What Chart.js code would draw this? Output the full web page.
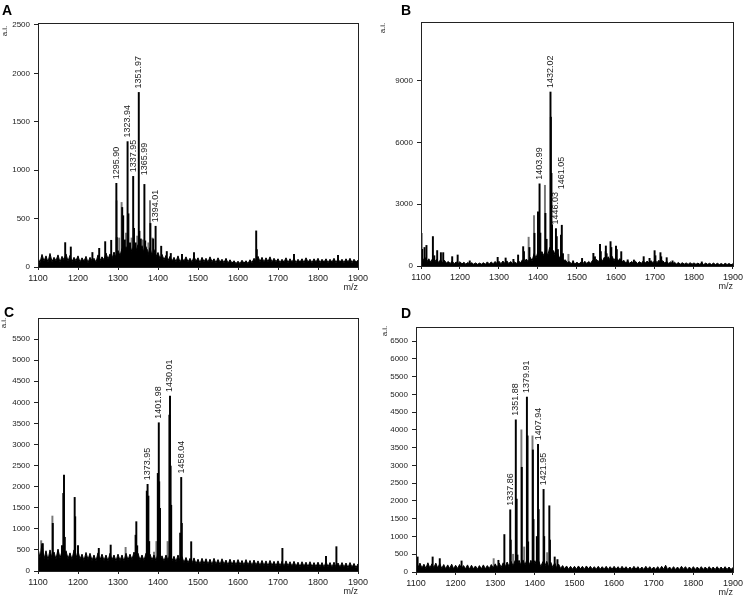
<!DOCTYPE html>
<html><head><meta charset="utf-8">
<script src="https://cdn.jsdelivr.net/npm/chart.js@4/dist/chart.umd.min.js"></script>
<style>
html,body{margin:0;padding:0;background:#fff;width:746px;height:596px;overflow:hidden}
canvas{position:absolute}
</style></head><body>
<canvas id="cA" width="373" height="298" style="left:0;top:0"></canvas>
<canvas id="cB" width="373" height="298" style="left:373px;top:0"></canvas>
<canvas id="cC" width="373" height="298" style="left:0;top:298px"></canvas>
<canvas id="cD" width="373" height="298" style="left:373px;top:298px"></canvas>
<script>
// ---------- shared axis values ----------
const xTicks = [1100,1200,1300,1400,1500,1600,1700,1800,1900];
const noiseStart = 1100, noiseStep = 5;

// ---------- Panel A ----------
const yTicksA = [0,500,1000,1500,2000,2500];
const yMaxA = 2520;
const noiseA = [
 95,45,130,60,115,50,140,55,100,65,125,50,110,75,135,60,120,55,100,65,
 115,50,95,60,110,45,100,65,90,50,125,65,105,75,145,80,135,85,155,95,
 170,115,190,135,210,145,220,155,240,165,230,155,220,145,210,125,200,115,180,105,
 150,85,130,75,120,65,110,60,100,55,115,50,95,60,105,55,90,50,110,60,
 95,45,100,55,90,50,105,55,85,45,95,50,80,45,90,40,75,40,65,35,
 60,35,70,40,65,35,75,45,90,65,110,55,100,50,95,55,105,50,90,55,
 85,45,80,50,95,45,85,50,90,45,80,50,85,45,95,50,80,45,85,50,
 90,45,80,50,85,45,80,50,90,45,85,50,80,45,85,50,90,45,80,50,
 70];
const peakMzA  = [1168,1182,1236,1253,1268,1283,1295.90,1297,1310.5,1313,1317,1323.94,1326,1330,1337.95,1340,1344,1351.97,1353.5,1357,1365.99,1368,1372,1381,1388,1394.01,1408,1422,1432,1460,1490,1645.5,1647,1740,1850];
const peakIntA = [252,207,150,193,262,276,864,304,615,530,280,1295,550,250,936,400,250,1803,370,290,853,270,180,450,290,421,215,160,140,130,150,373,180,130,120];
const grayMzA  = [1296.5,1303,1309,1320,1334,1348,1362,1376,1380,1386];
const grayIntA = [684,300,667,350,300,320,280,250,687,300];
const labelMzA   = [1295.90,1323.94,1337.95,1351.97,1365.99,1394.01];
const labelBaseA = [864,1295,936,1803,905,421];

// ---------- Panel B ----------
const yTicksB = [0,3000,6000,9000];
const yMaxB = 11850;
const noiseB = [
 500,250,420,200,350,180,380,200,330,170,300,160,280,140,220,120,240,110,200,120,
 210,100,180,90,170,100,160,90,150,80,140,90,160,80,200,100,190,110,220,120,
 230,110,240,130,250,120,220,110,200,120,260,140,300,160,340,200,420,260,600,380,
 700,450,700,500,800,500,900,550,750,450,650,400,500,250,300,160,220,120,200,110,
 180,100,190,110,230,120,220,130,280,170,320,200,400,230,420,250,450,280,470,270,
 430,240,360,200,280,150,240,130,220,140,230,120,210,130,250,140,240,130,260,150,
 300,160,280,170,260,140,230,120,200,110,180,100,170,90,160,90,150,80,160,90,
 150,80,140,80,150,70,140,80,130,70,140,70,130,70,120,60,130,70,120,60,
 110];
const peakMzB  = [1103,1109,1114,1130.5,1134,1141.5,1151,1157,1180,1194,1225,1296.6,1317,1337,1349,1362,1364,1378,1391,1400,1403.99,1406,1419,1422,1432.02,1433,1434.5,1436,1446.03,1448,1451,1459,1461.05,1464,1490,1513,1542,1546,1559,1561,1574,1576,1586,1588,1600,1602,1613.5,1630,1646,1671,1686,1699,1701,1714,1716,1730,1745,1820];
const peakIntB = [811,900,1000,1430,500,750,650,650,454,535,250,420,390,324,535,940,700,900,1590,2630,3990,1600,2560,1300,8450,7230,4500,2000,1816,1430,800,1500,1980,600,250,370,616,450,1054,700,973,600,1184,900,973,800,697,300,292,454,373,746,500,649,450,405,250,200];
const grayMzB  = [1102,1376,1389.8,1417.8,1478,1573];
const grayIntB = [1590,1400,2450,3920,570,700];
const labelMzB   = [1403.99,1432.02,1446.03,1461.05];
const labelBaseB = [3990,8450,1816,3536];

// ---------- Panel C ----------
const yTicksC = [0,500,1000,1500,2000,2500,3000,3500,4000,4500,5000,5500];
const yMaxC = 6000;
const noiseC = [
 550,300,650,280,480,260,500,300,450,280,520,300,470,320,480,290,430,270,500,300,
 480,280,400,250,440,270,420,250,380,240,430,260,400,250,380,240,420,260,380,240,
 400,250,380,230,420,260,400,270,450,300,420,260,380,250,420,280,400,260,380,240,
 420,260,360,230,380,250,400,240,350,220,380,230,340,200,320,190,300,180,310,170,
 280,160,300,170,290,160,280,150,300,160,270,150,290,160,260,140,280,150,260,140,
 270,150,250,140,270,140,250,130,260,140,240,130,250,130,240,120,250,130,230,120,
 240,120,230,110,240,120,220,110,230,110,210,100,220,110,210,100,220,100,200,100,
 210,100,200,90,220,100,200,90,210,90,190,90,200,90,190,80,200,90,180,80,
 170];
const peakMzC  = [1112,1137,1150,1160,1163.3,1165,1167,1191.7,1193,1200,1252,1281.7,1344,1345.8,1348,1372,1373.95,1376,1378,1399.5,1401.98,1403,1405,1428.5,1430.01,1431.5,1433,1455.5,1458.04,1459.5,1483,1711,1820,1846];
const peakIntC = [650,1130,480,600,1841,2276,800,1746,1288,600,537,616,850,1170,600,1896,2055,1778,700,2315,3516,2118,1486,3698,4148,2489,1560,900,2220,1130,695,537,350,577];
const grayMzC  = [1108,1136,1319,1390,1396,1424];
const grayIntC = [720,1304,561,450,700,700];
const labelMzC   = [1373.95,1401.98,1430.01,1458.04];
const labelBaseC = [2055,3516,4148,2220];

// ---------- Panel D ----------
const yTicksD = [0,500,1000,1500,2000,2500,3000,3500,4000,4500,5000,5500,6000,6500];
const yMaxD = 6900;
const noiseD = [
 350,120,250,110,220,100,260,110,230,120,250,110,240,100,210,90,200,100,220,90,
 190,100,210,90,180,90,200,80,190,90,170,80,180,90,200,90,180,100,210,110,
 230,120,250,130,260,140,280,150,300,160,320,170,330,180,340,190,350,180,330,170,
 320,160,300,150,290,150,300,140,280,130,260,120,220,100,180,90,170,80,160,80,
 160,80,170,90,160,80,170,90,160,80,150,80,160,80,150,80,160,70,150,80,
 160,80,150,70,160,80,150,70,140,70,160,80,150,70,140,70,160,80,150,70,
 140,70,150,70,160,80,190,70,140,70,150,70,140,70,160,80,150,70,140,70,
 150,70,140,70,150,70,140,70,150,70,140,70,150,70,140,70,150,70,140,70,
 130];
const peakMzD  = [1104,1142,1160,1215,1308,1323,1337.86,1339,1351.88,1354,1356,1367,1379.91,1381.5,1383,1395,1396.5,1405,1407.94,1409.5,1421.95,1423.5,1436.5,1438,1450,1457];
const peakIntD = [424,424,377,311,330,1055,1752,900,4286,2054,480,2949,4927,3834,850,3438,1480,1000,3599,1760,2327,1000,1865,900,424,350];
const grayMzD  = [1296,1345,1366,1373,1394,1431];
const grayIntD = [377,500,4004,706,3834,546];
const labelMzD   = [1337.86,1351.88,1379.91,1407.94,1421.95];
const labelBaseD = [1752,4286,4927,3599,2327];

// ---------- helpers ----------
const FONT = '"Liberation Sans", Arial, Helvetica, sans-serif';
Chart.defaults.font.family = FONT;
function pairs(mz, ints){ return mz.map((m,i)=>({x:m, y:ints[i]})); }
function noisePts(arr){ return arr.map((v,i)=>({x:noiseStart + i*noiseStep, y:v})); }

const decor = {
  id: 'decor',
  afterDatasetsDraw(chart, args, o) {
    const ctx = chart.ctx, xs = chart.scales.x, ys = chart.scales.y;
    ctx.save();
    ctx.font = '9px ' + FONT;
    ctx.fillStyle = '#1a1a1a';
    ctx.textAlign = 'left'; ctx.textBaseline = 'middle';
    o.labMz.forEach((m,i) => {
      const x = xs.getPixelForValue(m);
      const y = ys.getPixelForValue(o.labBase[i]) - 4;
      ctx.save(); ctx.translate(x, y); ctx.rotate(-Math.PI/2);
      ctx.fillText(m.toFixed(2), 0, 0); ctx.restore();
    });
    ctx.restore();
  },
  afterDraw(chart, args, o) {
    const ctx = chart.ctx, ca = chart.chartArea;
    ctx.save();
    ctx.strokeStyle = '#222'; ctx.lineWidth = 1;
    ctx.strokeRect(Math.round(ca.left)+0.5, Math.round(ca.top)+0.5,
                   Math.round(ca.right)-Math.round(ca.left), Math.round(ca.bottom)-Math.round(ca.top));
    ctx.fillStyle = '#000';
    ctx.font = 'bold 14px ' + FONT;
    ctx.textAlign = 'left'; ctx.textBaseline = 'alphabetic';
    ctx.fillText(o.letter, o.lx, o.ly);
    ctx.font = '8px ' + FONT; ctx.fillStyle = '#222';
    ctx.textAlign = 'center'; ctx.textBaseline = 'middle';
    ctx.save(); ctx.translate(o.aix, o.aiy); ctx.rotate(-Math.PI/2); ctx.fillText('a.i.', 0, 0); ctx.restore();
    ctx.textAlign = 'right'; ctx.font = '9px ' + FONT;
    ctx.fillText('m/z', ca.right, ca.bottom + 21);
    ctx.restore();
  }
};

function makePanel(id, d, g) {
  new Chart(document.getElementById(id), {
    type: 'bar',
    data: { datasets: [
      { type:'bar', data: pairs(d.pm, d.pi), backgroundColor:'#000', borderWidth:0, barThickness:1.3, grouped:false },
      { type:'line', data: noisePts(d.noise), borderColor:'#000', backgroundColor:'#000', borderWidth:1, pointRadius:0, tension:0, fill:'origin' },
      { type:'bar', data: pairs(d.gm, d.gi), backgroundColor:'#777', borderWidth:0, barThickness:1.3, grouped:false }
    ]},
    options: {
      responsive:false, animation:false, devicePixelRatio:1,
      layout: { padding: { left:0, top:g.top, right:g.pr, bottom:g.pb } },
      plugins: { legend:{display:false}, tooltip:{enabled:false},
        decor: { labMz:d.lm, labBase:d.lb, letter:g.letter, lx:g.lx, ly:g.ly, aix:g.aix, aiy:g.aiy } },
      scales: {
        x: { type:'linear', min:1100, max:1900, offset:false,
             afterBuildTicks: s => { s.ticks = xTicks.map(v=>({value:v})); },
             afterFit: s => { s.height = 20; },
             grid: { offset:false, drawOnChartArea:false, tickLength:3, color:'#222' },
             border: { color:'#222' },
             ticks: { font:{size:9}, color:'#222', padding:3, maxRotation:0, autoSkip:false, callback: v => String(v) } },
        y: { min:0, max:d.ymax,
             afterBuildTicks: s => { s.ticks = d.yt.map(v=>({value:v})); },
             afterFit: s => { s.width = g.yw; },
             grid: { drawOnChartArea:false, tickLength:4, color:'#222' },
             border: { color:'#222' },
             ticks: { font:{size:8}, color:'#222', padding:4, callback: v => String(v) } }
      }
    },
    plugins: [decor]
  });
}

makePanel('cA', {noise:noiseA, pm:peakMzA, pi:peakIntA, gm:grayMzA, gi:grayIntA, lm:labelMzA, lb:labelBaseA, ymax:yMaxA, yt:yTicksA},
  {top:23, pr:15, pb:11, yw:38, letter:'A', lx:2, ly:15, aix:5, aiy:31});
makePanel('cB', {noise:noiseB, pm:peakMzB, pi:peakIntB, gm:grayMzB, gi:grayIntB, lm:labelMzB, lb:labelBaseB, ymax:yMaxB, yt:yTicksB},
  {top:22, pr:10, pb:12, yw:48, letter:'B', lx:28, ly:15, aix:10, aiy:28});
makePanel('cC', {noise:noiseC, pm:peakMzC, pi:peakIntC, gm:grayMzC, gi:grayIntC, lm:labelMzC, lb:labelBaseC, ymax:yMaxC, yt:yTicksC},
  {top:20, pr:15, pb:5, yw:38, letter:'C', lx:4, ly:19, aix:4, aiy:25});
makePanel('cD', {noise:noiseD, pm:peakMzD, pi:peakIntD, gm:grayMzD, gi:grayIntD, lm:labelMzD, lb:labelBaseD, ymax:yMaxD, yt:yTicksD},
  {top:29, pr:10, pb:4, yw:43, letter:'D', lx:28, ly:20, aix:12, aiy:33});
</script>
</body></html>
